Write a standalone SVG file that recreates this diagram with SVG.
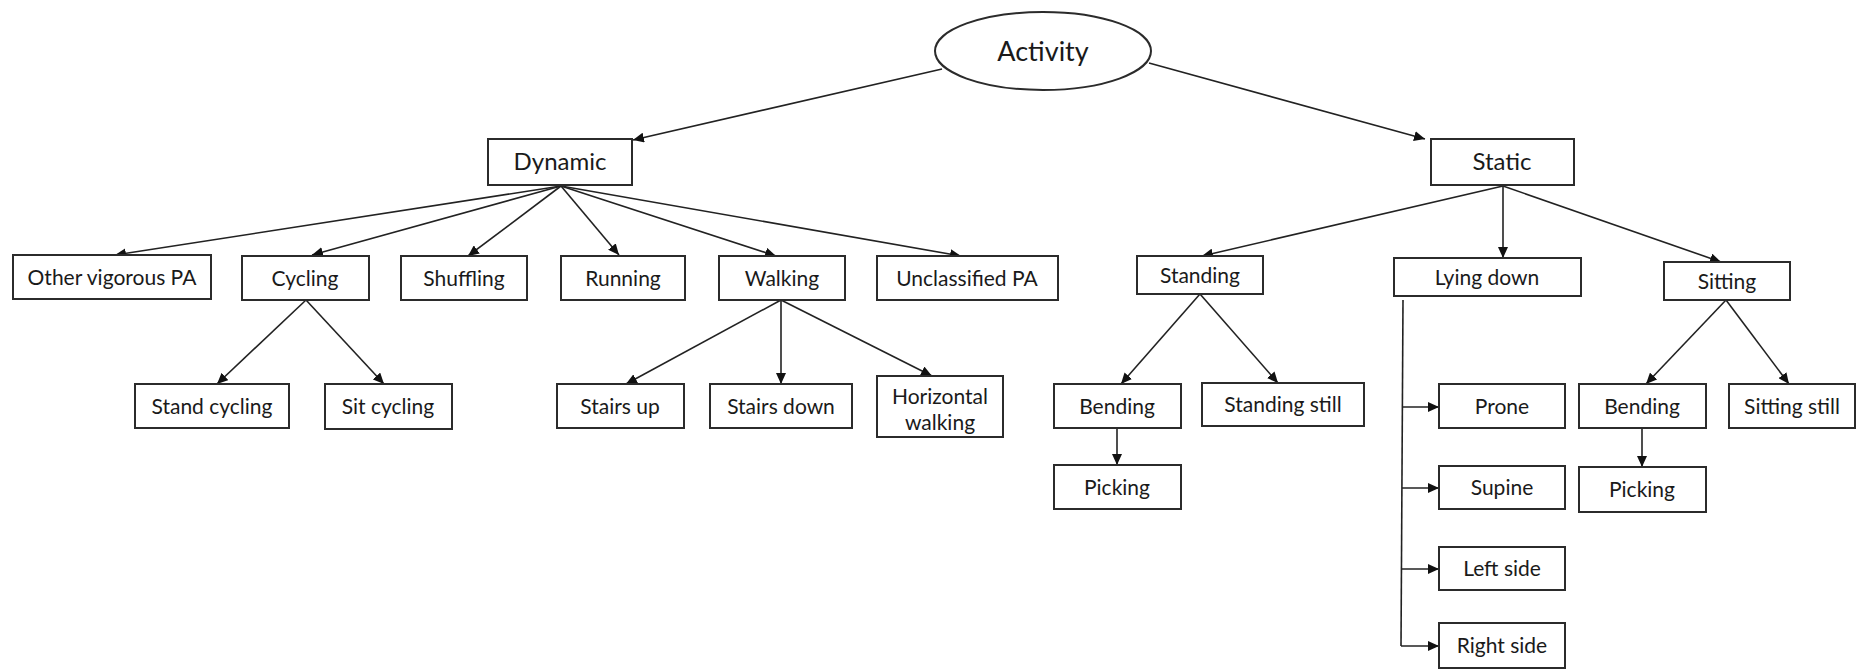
<svg xmlns="http://www.w3.org/2000/svg" width="1857" height="669" viewBox="0 0 1857 669">
<style>
.b{fill:#fff;stroke:#2b2b2b;stroke-width:2}
.t{font-family:Lato,"Liberation Sans",sans-serif;font-size:21px;fill:#1a1a1a;text-anchor:middle}
.h{font-size:24px}
.a{font-size:27px}
.c{stroke:#222;stroke-width:1.6;fill:none;marker-end:url(#ar)}
.p{stroke:#222;stroke-width:1.6;fill:none}
</style>
<defs>
<marker id="ar" markerUnits="userSpaceOnUse" markerWidth="12" markerHeight="10" refX="11" refY="5" orient="auto">
<path d="M0,0 L11,5 L0,10 z" fill="#111"/>
</marker>
</defs>
<rect width="1857" height="669" fill="#fff"/>
<g id="connectors">
<line class="c" x1="942" y1="69" x2="633" y2="140"/>
<line class="c" x1="1149" y1="63" x2="1425" y2="139"/>
<line class="c" x1="561" y1="186" x2="115" y2="255"/>
<line class="c" x1="561" y1="186" x2="312" y2="255"/>
<line class="c" x1="561" y1="186" x2="468" y2="256"/>
<line class="c" x1="561" y1="186" x2="619" y2="255"/>
<line class="c" x1="561" y1="186" x2="776" y2="256"/>
<line class="c" x1="561" y1="186" x2="961" y2="256"/>
<line class="c" x1="306" y1="300" x2="217" y2="384"/>
<line class="c" x1="306" y1="300" x2="384" y2="384"/>
<line class="c" x1="781" y1="300" x2="626" y2="384"/>
<line class="c" x1="781" y1="300" x2="781" y2="384"/>
<line class="c" x1="781" y1="300" x2="932" y2="376"/>
<line class="c" x1="1503" y1="186" x2="1202" y2="256"/>
<line class="c" x1="1503" y1="186" x2="1503" y2="258"/>
<line class="c" x1="1503" y1="186" x2="1721" y2="262"/>
<line class="c" x1="1200" y1="294" x2="1121" y2="384"/>
<line class="c" x1="1200" y1="294" x2="1278" y2="383"/>
<line class="c" x1="1117" y1="428" x2="1117" y2="465"/>
<line class="c" x1="1726" y1="300" x2="1646" y2="384"/>
<line class="c" x1="1726" y1="300" x2="1789" y2="384"/>
<line class="c" x1="1642" y1="428" x2="1642" y2="467"/>
<line class="p" x1="1403" y1="300" x2="1401" y2="646"/>
<line class="c" x1="1402" y1="407" x2="1439" y2="407"/>
<line class="c" x1="1402" y1="488" x2="1439" y2="488"/>
<line class="c" x1="1401" y1="569" x2="1439" y2="569"/>
<line class="c" x1="1401" y1="646" x2="1439" y2="646"/>
</g>
<g id="activity"><ellipse class="b" cx="1043" cy="51" rx="108" ry="39"/><text class="t a" x="1043" y="61">Activity</text></g>
<g id="dynamic"><rect class="b" x="488" y="139" width="144" height="46"/><text class="t h" x="560" y="170">Dynamic</text></g>
<g id="static"><rect class="b" x="1431" y="139" width="143" height="46"/><text class="t h" x="1502" y="170">Static</text></g>
<g id="other-vigorous"><rect class="b" x="13" y="255" width="198" height="44"/><text class="t" x="112" y="285">Other vigorous PA</text></g>
<g id="cycling"><rect class="b" x="242" y="256" width="127" height="44"/><text class="t" x="305" y="286">Cycling</text></g>
<g id="shuffling"><rect class="b" x="401" y="256" width="126" height="44"/><text class="t" x="464" y="286">Shuffling</text></g>
<g id="running"><rect class="b" x="561" y="256" width="124" height="44"/><text class="t" x="623" y="286">Running</text></g>
<g id="walking"><rect class="b" x="719" y="256" width="126" height="44"/><text class="t" x="782" y="286">Walking</text></g>
<g id="unclassified"><rect class="b" x="877" y="256" width="181" height="44"/><text class="t" x="967" y="286">Unclassified PA</text></g>
<g id="standing"><rect class="b" x="1137" y="256" width="126" height="38"/><text class="t" x="1200" y="283">Standing</text></g>
<g id="lying-down"><rect class="b" x="1394" y="258" width="187" height="38"/><text class="t" x="1487" y="285">Lying down</text></g>
<g id="sitting"><rect class="b" x="1664" y="262" width="126" height="38"/><text class="t" x="1727" y="289">Sitting</text></g>
<g id="stand-cycling"><rect class="b" x="135" y="384" width="154" height="44"/><text class="t" x="212" y="414">Stand cycling</text></g>
<g id="sit-cycling"><rect class="b" x="325" y="384" width="127" height="45"/><text class="t" x="388" y="414">Sit cycling</text></g>
<g id="stairs-up"><rect class="b" x="557" y="384" width="127" height="44"/><text class="t" x="620" y="414">Stairs up</text></g>
<g id="stairs-down"><rect class="b" x="710" y="384" width="142" height="44"/><text class="t" x="781" y="414">Stairs down</text></g>
<g id="horizontal-walking"><rect class="b" x="877" y="376" width="126" height="61"/><text class="t" x="940" y="404">Horizontal</text><text class="t" x="940" y="430">walking</text></g>
<g id="standing-bending"><rect class="b" x="1054" y="384" width="127" height="44"/><text class="t" x="1117" y="414">Bending</text></g>
<g id="standing-still"><rect class="b" x="1202" y="383" width="162" height="43"/><text class="t" x="1283" y="412">Standing still</text></g>
<g id="standing-picking"><rect class="b" x="1054" y="465" width="127" height="44"/><text class="t" x="1117" y="495">Picking</text></g>
<g id="prone"><rect class="b" x="1439" y="384" width="126" height="44"/><text class="t" x="1502" y="414">Prone</text></g>
<g id="supine"><rect class="b" x="1439" y="466" width="126" height="43"/><text class="t" x="1502" y="495">Supine</text></g>
<g id="left-side"><rect class="b" x="1439" y="547" width="126" height="43"/><text class="t" x="1502" y="576">Left side</text></g>
<g id="right-side"><rect class="b" x="1439" y="623" width="126" height="45"/><text class="t" x="1502" y="653">Right side</text></g>
<g id="sitting-bending"><rect class="b" x="1579" y="384" width="127" height="44"/><text class="t" x="1642" y="414">Bending</text></g>
<g id="sitting-picking"><rect class="b" x="1579" y="467" width="127" height="45"/><text class="t" x="1642" y="497">Picking</text></g>
<g id="sitting-still"><rect class="b" x="1729" y="384" width="126" height="44"/><text class="t" x="1792" y="414">Sitting still</text></g>
</svg>
